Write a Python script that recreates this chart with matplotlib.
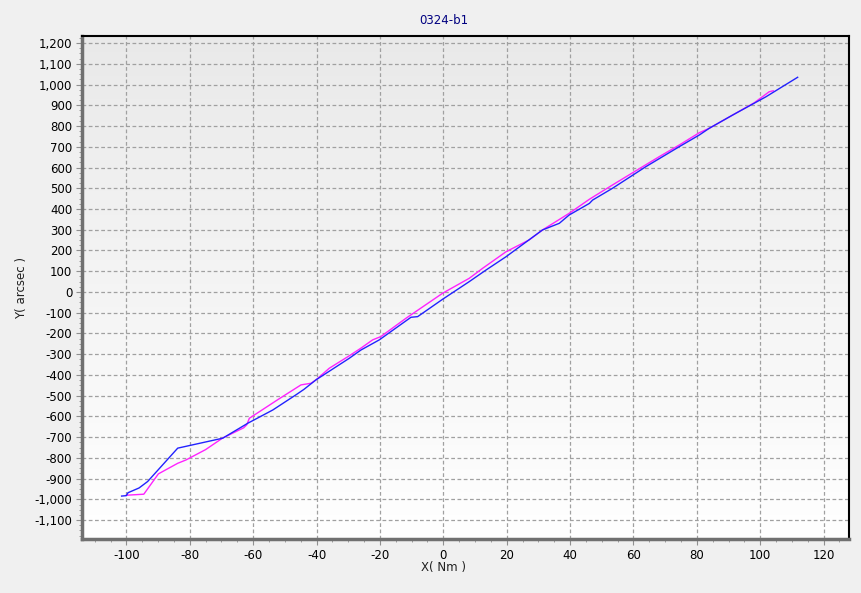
import matplotlib
matplotlib.use("Agg")
import matplotlib.pyplot as plt
import numpy as np
from matplotlib.ticker import MultipleLocator, FuncFormatter

title = "0324-b1"
xlabel = "X( Nm )"
ylabel = "Y( arcsec )"

# blue series
blue_x = [-101.5, -100.0, -99.5, -96.0, -93.3, -83.8, -69.6, -61.7, -53.8, -46.5, -44.0,
          -40.2, -29.7, -26.0, -20.2, -10.2, -8.1, -0.2, 8.2, 13.5, 19.8, 31.3,
          36.6, 39.7, 46.1, 47.1, 53.4, 63.9, 74.4, 80.8, 83.9, 91.3, 101.8, 111.8]
blue_y = [-984, -982, -968, -945, -914, -753, -705, -633, -569, -496, -470,
          -424, -320, -280, -231, -122, -119, -35, 50, 106, 170, 299,
          331, 371, 427, 443, 500, 604, 700, 757, 789, 853, 941, 1035]

# magenta series
mag_x = [-100.0, -94.5, -89.9, -83.8, -81.2, -75.0, -69.7, -63.0, -62.0, -61.2, -52.3,
         -44.9, -41.7, -40.2, -36.0, -29.7, -26.0, -22.3, -19.7, -11.8, -0.2,
         8.2, 12.4, 19.8, 27.1, 31.3, 39.7, 46.1, 53.4, 62.9, 68.1, 74.4,
         80.8, 83.9, 98.1, 102.8, 104.1]
mag_y = [-980, -975, -877, -826, -810, -760, -705, -655, -640, -609, -520,
         -448, -440, -424, -368, -308, -271, -231, -215, -127, -6,
         66, 114, 194, 251, 299, 379, 447, 516, 604, 652, 708,
         768, 789, 912, 965, 970]

fig = plt.figure(figsize=(8.62, 5.93), dpi=100, facecolor="#f0f0f0")
ax = fig.add_axes([82/862, 1 - 539/593, (849-82)/862, (539-36)/593])
ax.set_facecolor("none")

# vertical gradient background, grey at top to white at bottom
grad = np.linspace(0.915, 1.0, 256).reshape(-1, 1)
ax.imshow(np.dstack([grad, grad, grad]), aspect="auto", extent=(0, 1, 0, 1),
          origin="upper", transform=ax.transAxes, zorder=0)

ax.plot(mag_x, mag_y, color="#ff22ff", lw=1.0, zorder=3)
ax.plot(blue_x, blue_y, color="#2222ff", lw=1.0, zorder=4)

ax.set_xlim(-114, 128)
ax.set_ylim(-1191, 1234)
ax.xaxis.set_major_locator(MultipleLocator(20))
ax.xaxis.set_minor_locator(MultipleLocator(5))
ax.yaxis.set_major_locator(MultipleLocator(100))
ax.yaxis.set_minor_locator(MultipleLocator(25))
ax.yaxis.set_major_formatter(FuncFormatter(lambda v, p: f"{v:,.0f}"))
ax.xaxis.set_major_formatter(FuncFormatter(lambda v, p: f"{v:.0f}"))

ax.grid(True, which="major", color="#a0a0a0", linestyle=(0, (3, 2)), lw=0.9, zorder=1)
ax.set_axisbelow(True)
ax.tick_params(which="major", direction="out", length=4, color="#909090", labelsize=8.5, pad=3)
ax.tick_params(which="minor", direction="out", length=2, color="#909090")

for s in ["left", "bottom"]:
    ax.spines[s].set_color("#707070")
    ax.spines[s].set_linewidth(2.5)
for s in ["top", "right"]:
    ax.spines[s].set_color("black")
    ax.spines[s].set_linewidth(1.5)

fig.text(444/862, 1 - 20/593, title, color="#000080", fontsize=8.5, ha="center", va="center")
fig.text(444/862, 1 - 568/593, xlabel, color="#202020", fontsize=8.5, ha="center", va="center")
fig.text(22/862, 1 - 288/593, ylabel, color="#202020", fontsize=8.5, ha="center", va="center",
         rotation=90)

fig.savefig("out.png", dpi=100, facecolor=fig.get_facecolor())
